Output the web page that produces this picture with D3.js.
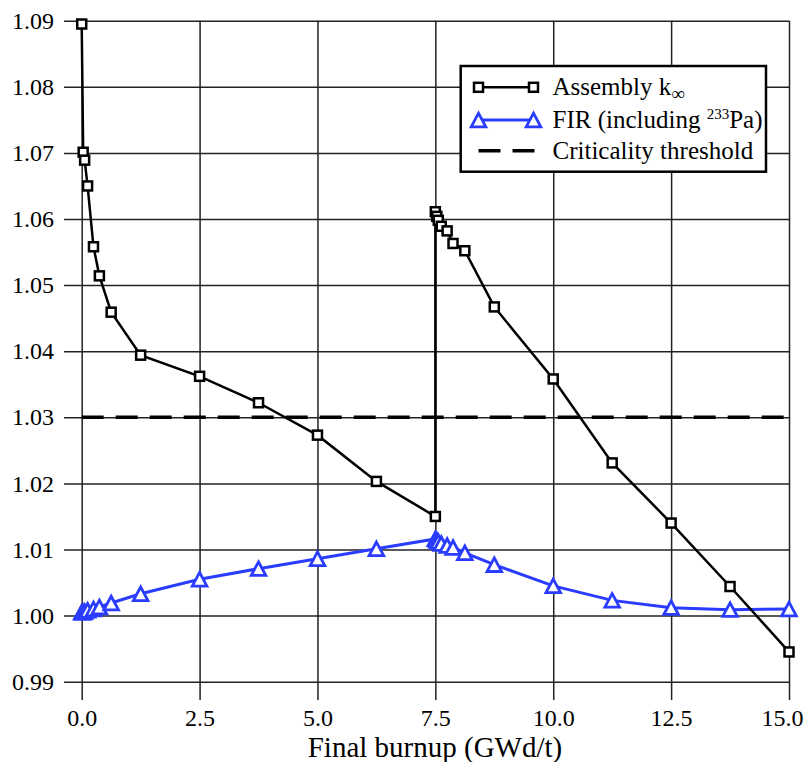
<!DOCTYPE html>
<html>
<head>
<meta charset="utf-8">
<script src="https://cdn.jsdelivr.net/npm/d3@7/dist/d3.min.js"></script>
<style>
  html, body { margin: 0; padding: 0; background: #fff; }
  svg { display: block; }
  text { font-family: "Liberation Serif", "Times New Roman", serif; fill: #000; }
</style>
</head>
<body>
<svg id="chart" width="807" height="762"></svg>
<script>
// ---- data ----
const burnupK = [0, 0.03125, 0.0625, 0.125, 0.25, 0.375, 0.625, 1.25, 2.5, 3.75, 5, 6.25, 7.5,
                 7.5, 7.53125, 7.5625, 7.625, 7.75, 7.875, 8.125, 8.75, 10, 11.25, 12.5, 13.75, 15];
const assemblyK = [1.0895, 1.0701, 1.0689, 1.0650, 1.0558, 1.0514, 1.0459, 1.0394, 1.0362, 1.0322, 1.0273, 1.0203, 1.0150,
                   1.0611, 1.0604, 1.0598, 1.0589, 1.0582, 1.0563, 1.0552, 1.0467, 1.0358, 1.0231, 1.0140, 1.0044, 0.9945];
const burnupF = [0, 0.03125, 0.0625, 0.125, 0.25, 0.375, 0.625, 1.25, 2.5, 3.75, 5, 6.25, 7.5,
                 7.53125, 7.5625, 7.625, 7.75, 7.875, 8.125, 8.75, 10, 11.25, 12.5, 13.75, 15];
const firValues = [1.0005, 1.0005, 1.0006, 1.0008, 1.0010, 1.0013, 1.0019, 1.0033, 1.0055, 1.0071, 1.0086, 1.0101, 1.0116,
                   1.0114, 1.0112, 1.0109, 1.0106, 1.0103, 1.0095, 1.0077, 1.0045, 1.0023, 1.0012, 1.0009, 1.0010];
const threshold = 1.03;
const xTicks = [0, 2.5, 5, 7.5, 10, 12.5, 15];
const yTicks = [0.99, 1.00, 1.01, 1.02, 1.03, 1.04, 1.05, 1.06, 1.07, 1.08, 1.09];
const xTitle = "Final burnup (GWd/t)";

const blue = "#2a3cff";
const svg = d3.select("#chart");

const x = d3.scaleLinear().domain([0, 15]).range([81.7, 789]);
const y = d3.scaleLinear().domain([0.99, 1.09]).range([681.7, 20.7]);

// grid + axes
const yAxis = d3.axisLeft(y).tickValues(yTicks).tickFormat(d3.format(".2f"))
  .tickSize(-(789 - 64)).tickPadding(10);
const gy = svg.append("g").attr("transform", "translate(64,0)").call(yAxis);
gy.select(".domain").remove();
gy.selectAll(".tick line").attr("stroke", "#222").attr("stroke-width", 1.5);
gy.selectAll(".tick text").attr("font-size", 24).attr("font-family", "Liberation Serif").attr("fill", "#000");

const xAxis = d3.axisBottom(x).tickValues(xTicks).tickFormat(d3.format(".1f"))
  .tickSize(-(700 - 20.7)).tickPadding(9);
const gx = svg.append("g").attr("transform", "translate(0,700)").call(xAxis);
gx.select(".domain").remove();
gx.selectAll(".tick line").attr("stroke", "#222").attr("stroke-width", 1.5);
gx.selectAll(".tick text").attr("font-size", 24).attr("font-family", "Liberation Serif").attr("fill", "#000")
  .attr("dx", d => d === 15 ? -7 : 0);

svg.append("text").attr("x", 435).attr("y", 757).attr("text-anchor", "middle")
  .attr("font-size", 29).text(xTitle);

// threshold
svg.append("line").attr("x1", x(0)).attr("x2", x(15)).attr("y1", y(threshold)).attr("y2", y(threshold))
  .attr("stroke", "#000").attr("stroke-width", 3.5).attr("stroke-dasharray", "22,12");

// FIR line
const firData = burnupF.map((b, i) => [b, firValues[i]]);
svg.append("path").datum(firData)
  .attr("d", d3.line().x(d => x(d[0])).y(d => y(d[1])))
  .attr("fill", "none").attr("stroke", blue).attr("stroke-width", 3);

// Assembly line
const kData = burnupK.map((b, i) => [b, assemblyK[i]]);
svg.append("path").datum(kData)
  .attr("d", d3.line().x(d => x(d[0])).y(d => y(d[1])))
  .attr("fill", "none").attr("stroke", "#000").attr("stroke-width", 2.5);

const triPath = "M0,-6.8 L7.3,6.8 L-7.3,6.8 Z";
svg.append("g").selectAll("path").data(firData).join("path")
  .attr("transform", d => `translate(${x(d[0])},${y(d[1])})`)
  .attr("d", triPath).attr("fill", "#fff").attr("stroke", blue).attr("stroke-width", 2.8);

svg.append("g").selectAll("rect").data(kData).join("rect")
  .attr("x", d => x(d[0]) - 4.5).attr("y", d => y(d[1]) - 4.5)
  .attr("width", 9).attr("height", 9)
  .attr("fill", "#fff").attr("stroke", "#000").attr("stroke-width", 2.5);

// legend
const lg = svg.append("g");
lg.append("rect").attr("x", 460.7).attr("y", 66).attr("width", 305.3).attr("height", 105.7)
  .attr("fill", "#fff").attr("stroke", "#000").attr("stroke-width", 2.5);
const lx1 = 478.5, lx2 = 533.5, tx = 552.5;
// row 1
lg.append("line").attr("x1", lx1).attr("x2", lx2).attr("y1", 87.3).attr("y2", 87.3)
  .attr("stroke", "#000").attr("stroke-width", 2.5);
[lx1, lx2].forEach(px => lg.append("rect").attr("x", px - 4.5).attr("y", 87.3 - 4.5)
  .attr("width", 9).attr("height", 9).attr("fill", "#fff").attr("stroke", "#000").attr("stroke-width", 2.5));
const t1 = lg.append("text").attr("x", tx).attr("y", 95).attr("font-size", 25);
t1.append("tspan").text("Assembly k");
t1.append("tspan").attr("font-size", 19).attr("dy", 5).text("∞");
// row 2
lg.append("line").attr("x1", lx1).attr("x2", lx2).attr("y1", 120).attr("y2", 120)
  .attr("stroke", blue).attr("stroke-width", 3);
[lx1, lx2].forEach(px => lg.append("path").attr("transform", `translate(${px},120)`)
  .attr("d", triPath).attr("fill", "#fff").attr("stroke", blue).attr("stroke-width", 2.8));
const t2 = lg.append("text").attr("x", tx).attr("y", 127.5).attr("font-size", 25);
t2.append("tspan").text("FIR (including ");
t2.append("tspan").attr("font-size", 15).attr("dy", -9).text("233");
t2.append("tspan").attr("dy", 9).text("Pa)");
// row 3
lg.append("line").attr("x1", lx1).attr("x2", lx2 + 1).attr("y1", 150.7).attr("y2", 150.7)
  .attr("stroke", "#000").attr("stroke-width", 3.5).attr("stroke-dasharray", "22,12");
lg.append("text").attr("x", tx).attr("y", 158.5).attr("font-size", 25).text("Criticality threshold");
</script>
</body>
</html>
